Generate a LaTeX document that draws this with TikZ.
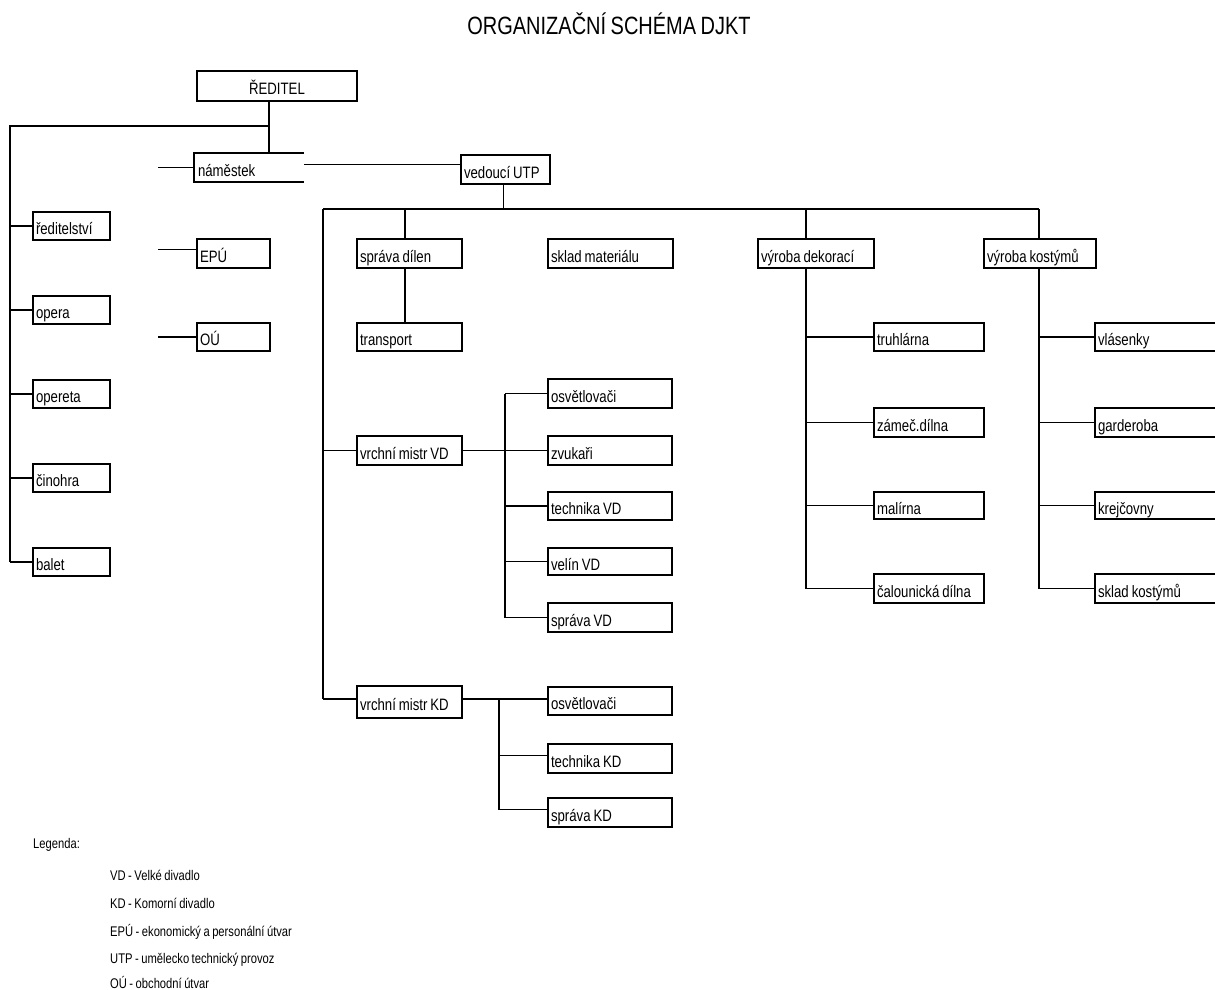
\documentclass[tikz,border=0pt]{standalone}
\usepackage{fontspec}
\setmainfont{Liberation Sans}[FakeStretch=0.8, WordSpace=0.8]
\tikzset{
  obox/.style={draw, line width=2pt, inner xsep=3pt, inner ysep=0pt, anchor=north west,
    font=\fontsize{16.5}{18}\selectfont, text height=17pt, text depth=0pt, align=left},
  conn/.style={line width=1.6pt},
  boxline/.style={line width=2pt},
  leg/.style={anchor=base west, inner sep=0pt, font=\fontsize{14}{16}\selectfont},
}
\newcommand\obx[6]{%
  \pgfmathsetmacro\obw{#4-#2}%
  \pgfmathsetmacro\obh{#5-#3}%
  \pgfmathsetmacro\obt{#4-#2-6}%
  \node[obox, minimum width=\obw pt, minimum height=\obh pt, text width=\obt pt] (#1) at (#2,#3) {\spaceskip=0pt\xspaceskip=0pt\relax #6};}
\begin{document}
\begin{tikzpicture}[x=1pt,y=-1pt]
\useasboundingbox (0,0) rectangle (1215,990);
\clip (0,0) rectangle (1215,990);
\fill[white] (0,0) rectangle (1215,990);

% title
\node[anchor=base, inner sep=0pt, font=\fontsize{25}{28}\selectfont] (title) at (609,35) {ORGANIZAČNÍ SCHÉMA DJKT};

% boxes
\node[obox, align=center, minimum width=160pt, minimum height=30pt, text width=154pt] (reditel) at (196,70) {ŘEDITEL};
\obx{redst}{32}{211}{109}{239}{ředitelství}
\obx{opera}{32}{295}{109}{323}{opera}
\obx{opereta}{32}{379}{109}{407}{opereta}
\obx{cinohra}{32}{463}{109}{491}{činohra}
\obx{balet}{32}{547}{109}{575}{balet}

\node[obox, draw=none, minimum width=108pt, minimum height=27pt, text width=102pt] (namestek) at (194,153) {náměstek};
\draw[boxline] (namestek.north east) -- (namestek.north west) -- (namestek.south west) -- (namestek.south east);
\obx{epu}{196}{238}{269}{267}{EPÚ}
\obx{ou}{196}{322}{269}{350}{OÚ}

\obx{vedouci}{460}{154}{549}{183}{vedoucí UTP}
\obx{sd}{356}{238}{461}{267}{správa dílen}
\obx{tr}{356}{322}{461}{350}{transport}
\obx{skm}{547}{238}{672}{267}{sklad materiálu}
\obx{vd}{757}{238}{873}{267}{výroba dekorací}
\obx{vk}{983}{238}{1095}{267}{výroba kostýmů}

\obx{vmvd}{356}{435}{461}{464}{vrchní mistr VD}
\obx{osv1}{547}{378}{671}{407}{osvětlovači}
\obx{zvu}{547}{435}{671}{464}{zvukaři}
\obx{tech1}{547}{491}{671}{519}{technika VD}
\obx{velin}{547}{547}{671}{574}{velín VD}
\obx{spvd}{547}{602}{671}{631}{správa VD}

\obx{vmkd}{356}{685}{461}{717}{vrchní mistr KD}
\obx{osv2}{547}{686}{671}{714}{osvětlovači}
\obx{tech2}{547}{743}{671}{772}{technika KD}
\obx{spkd}{547}{797}{671}{826}{správa KD}

\obx{tru}{873}{322}{983}{350}{truhlárna}
\obx{zam}{873}{407}{983}{436}{zámeč.dílna}
\obx{mal}{873}{491}{983}{518}{malírna}
\obx{cal}{873}{573}{983}{602}{čalounická dílna}

\obx{vla}{1094}{322}{1260}{350}{vlásenky}
\obx{gar}{1094}{407}{1260}{436}{garderoba}
\obx{kre}{1094}{491}{1260}{518}{krejčovny}
\obx{skk}{1094}{573}{1260}{602}{sklad kostýmů}

% connectors: director
\coordinate (rv) at (269,126);
\coordinate (lv) at (10,126);
\draw[conn] (rv |- reditel.south) -- (rv |- namestek.north);
\draw[conn] (rv) -- (lv) -- (lv |- balet.west);
\foreach \n in {redst,opera,opereta,cinohra,balet}
  \draw[conn] (lv |- \n.west) -- (\n.west);
\draw[conn] (namestek.west) -- ++(-36,0);
\draw[conn] ([yshift=4pt]epu.west) -- ++(-38,0);
\draw[conn] (ou.west) -- ++(-38,0);
\draw[conn] ([yshift=3pt]namestek.east) -- ([yshift=3pt]namestek.east -| vedouci.west);

% UTP bus
\coordinate (bl) at (323,209);
\coordinate (br) at (1039,209);
\coordinate (sdx) at (405,209);
\coordinate (dv) at (806,209);
\draw[conn] ([xshift=-2pt]vedouci.south) -- ([xshift=-2pt]vedouci.south |- bl);
\draw[conn] (bl) -- (br);
\draw[conn] (sdx) -- (sdx |- sd.north);
\draw[conn] (sdx |- sd.south) -- (sdx |- tr.north);
\draw[conn] (dv) -- (dv |- vd.north);
\draw[conn] (br) -- (br |- vk.north);

% VD / KD
\draw[conn] (bl) -- ([yshift=3pt]bl |- vmkd.west);
\draw[conn] (bl |- vmvd.west) -- (vmvd.west);
\draw[conn] ([yshift=3pt]bl |- vmkd.west) -- ([yshift=3pt]vmkd.west);
\coordinate (vx) at (505,449);
\draw[conn] (vmvd.east) -- (vmvd.east -| zvu.west);
\draw[conn] (vx |- osv1.west) -- (vx |- spvd.west);
\foreach \n in {osv1,tech1,velin,spvd}
  \draw[conn] (vx |- \n.west) -- (\n.west);
\coordinate (kx) at (499,698);
\draw[conn] ([yshift=3pt]vmkd.east) -- ([yshift=3pt]vmkd.east -| osv2.west);
\draw[conn] ([yshift=3pt]kx |- vmkd.east) -- ([yshift=3pt]kx |- spkd.west);
\foreach \n in {tech2,spkd}
  \draw[conn] ([yshift=3pt]kx |- \n.west) -- ([yshift=3pt]\n.west);

% dekorace / kostymy
\draw[conn] (dv |- vd.south) -- (dv |- cal.west);
\foreach \n in {tru,zam,mal,cal}
  \draw[conn] (dv |- \n.west) -- (\n.west);
\draw[conn] (br |- vk.south) -- (br |- skk.west);
\foreach \n in {vla,gar,kre,skk}
  \draw[conn] (br |- \n.west) -- (\n.west);

% legend
\node[leg] (lg0) at (33,848) {Legenda:};
\node[leg] (lg1) at (110,880) {VD - Velké divadlo};
\node[leg] (lg2) at (110,908) {KD - Komorní divadlo};
\node[leg] (lg3) at (110,936) {EPÚ - ekonomický a personální útvar};
\node[leg] (lg4) at (110,963) {UTP - umělecko technický provoz};
\node[leg] (lg5) at (110,988) {OÚ - obchodní útvar};
\end{tikzpicture}
\end{document}
